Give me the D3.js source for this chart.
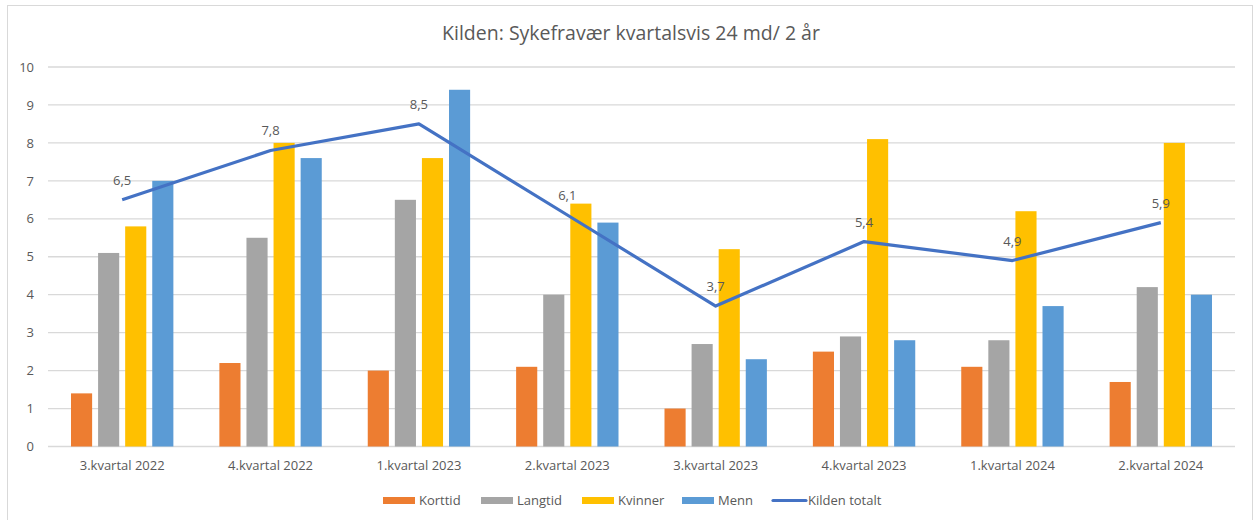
<!DOCTYPE html>
<html>
<head>
<meta charset="utf-8">
<script src="https://cdn.jsdelivr.net/npm/d3@7"></script>
<style>
  body { margin: 0; background: #fff; }
  svg text { font-family: "Open Sans", "Noto Sans", sans-serif; fill: #595959; }
</style>
</head>
<body>
<svg class="chart" width="1253" height="520"></svg>
<script>
var categories = ["3.kvartal 2022", "4.kvartal 2022", "1.kvartal 2023", "2.kvartal 2023",
                  "3.kvartal 2023", "4.kvartal 2023", "1.kvartal 2024", "2.kvartal 2024"];
var seriesNames = ["Korttid", "Langtid", "Kvinner", "Menn"];
var korttid = [1.4, 2.2, 2.0, 2.1, 1.0, 2.5, 2.1, 1.7];
var langtid = [5.1, 5.5, 6.5, 4.0, 2.7, 2.9, 2.8, 4.2];
var kvinner = [5.8, 8.0, 7.6, 6.4, 5.2, 8.1, 6.2, 8.0];
var menn = [7.0, 7.6, 9.4, 5.9, 2.3, 2.8, 3.7, 4.0];
var totalt = [6.5, 7.8, 8.5, 6.1, 3.7, 5.4, 4.9, 5.9];
var yTicks = [0, 1, 2, 3, 4, 5, 6, 7, 8, 9, 10];

var colors = {Korttid: "#ed7d31", Langtid: "#a5a5a5", Kvinner: "#ffc000", Menn: "#5b9bd5"};
var lineColor = "#4472c4";
var values = {Korttid: korttid, Langtid: langtid, Kvinner: kvinner, Menn: menn};

var svg = d3.select(".chart"),
    margin = {top: 67, right: 18, bottom: 74, left: 48},
    width = 1235 - margin.left,
    height = 446.5 - margin.top;

// chart border
svg.append("rect")
    .attr("x", 7.5).attr("y", 5.5)
    .attr("width", 1245).attr("height", 530)
    .attr("fill", "none").attr("stroke", "#d9d9d9");

svg.append("text")
    .attr("x", 631).attr("y", 40)
    .style("text-anchor", "middle")
    .style("font-size", "19.5px")
    .text("Kilden: Sykefravær kvartalsvis 24 md/ 2 år");

var g = svg.append("g")
    .attr("transform", "translate(" + margin.left + "," + margin.top + ")");

var x0 = d3.scaleBand().domain(categories).range([0, width]).paddingInner(0.31).paddingOuter(0.155);
var x1 = d3.scaleBand().domain(seriesNames).range([0, x0.bandwidth()]).paddingInner(0.22);
var y = d3.scaleLinear().domain([0, 10]).range([height, 0]);

// grid
g.append("g")
    .selectAll("line")
    .data(yTicks)
  .enter().append("line")
    .attr("x1", 0).attr("x2", width)
    .attr("y1", function(d) { return y(d); })
    .attr("y2", function(d) { return y(d); })
    .attr("stroke", "#d9d9d9")
    .attr("stroke-width", 1.3);

var yAxis = g.append("g")
    .call(d3.axisLeft(y).tickValues(yTicks).tickSize(0).tickPadding(14));
yAxis.select(".domain").remove();
yAxis.selectAll("text").style("font-size", "13px").attr("fill", "#595959");

var xAxis = g.append("g")
    .attr("transform", "translate(0," + height + ")")
    .call(d3.axisBottom(x0).tickSize(0).tickPadding(14));
xAxis.select(".domain").remove();
xAxis.selectAll("text").style("font-size", "13px").attr("fill", "#595959");

// bars
var groups = g.selectAll(".grp")
    .data(categories)
  .enter().append("g")
    .attr("class", "grp")
    .attr("transform", function(d) { return "translate(" + x0(d) + ",0)"; });

groups.selectAll("rect")
    .data(function(d, i) { return seriesNames.map(function(s) { return {key: s, value: values[s][i]}; }); })
  .enter().append("rect")
    .attr("x", function(d) { return x1(d.key); })
    .attr("width", x1.bandwidth())
    .attr("y", function(d) { return y(d.value); })
    .attr("height", function(d) { return height - y(d.value); })
    .attr("fill", function(d) { return colors[d.key]; });

// total line
var line = d3.line()
    .x(function(d, i) { return x0(categories[i]) + x0.bandwidth() / 2; })
    .y(function(d) { return y(d); });

g.append("path")
    .datum(totalt)
    .attr("d", line)
    .attr("fill", "none")
    .attr("stroke", lineColor)
    .attr("stroke-width", 3.2)
    .attr("stroke-linejoin", "round");

g.selectAll(".lbl")
    .data(totalt)
  .enter().append("text")
    .attr("class", "lbl")
    .attr("x", function(d, i) { return x0(categories[i]) + x0.bandwidth() / 2; })
    .attr("y", function(d) { return y(d) - 15; })
    .style("text-anchor", "middle")
    .style("font-size", "13px")
    .text(function(d) { return d3.format(".1f")(d).replace(".", ","); });

// legend
var legendItems = [
  {name: "Korttid", x: 383, type: "bar"},
  {name: "Langtid", x: 481, type: "bar"},
  {name: "Kvinner", x: 582, type: "bar"},
  {name: "Menn", x: 682, type: "bar"},
  {name: "Kilden totalt", x: 773, type: "line"}
];
var legend = svg.append("g");
legendItems.forEach(function(it) {
  if (it.type == "bar") {
    legend.append("rect")
        .attr("x", it.x).attr("y", 497)
        .attr("width", 32).attr("height", 7)
        .attr("fill", colors[it.name]);
  } else {
    legend.append("line")
        .attr("x1", it.x).attr("x2", it.x + 33)
        .attr("y1", 500.5).attr("y2", 500.5)
        .attr("stroke", lineColor).attr("stroke-width", 3.2)
        .attr("stroke-linecap", "round");
  }
  legend.append("text")
      .attr("x", it.x + (it.type == "bar" ? 36 : 35))
      .attr("y", 505)
      .style("font-size", "13px")
      .text(it.name);
});
</script>
</body>
</html>
